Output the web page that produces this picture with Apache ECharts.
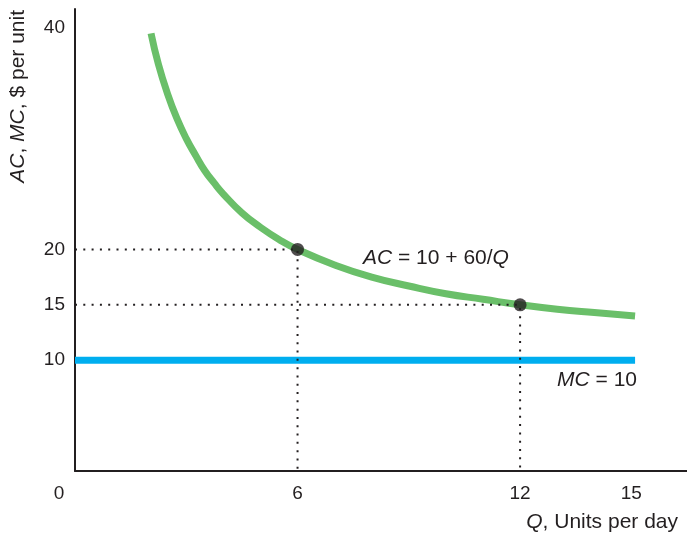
<!DOCTYPE html>
<html>
<head>
<meta charset="utf-8">
<script src="https://cdn.jsdelivr.net/npm/echarts@6/dist/echarts.min.js"></script>
<style>html,body{margin:0;padding:0;background:#fff;}#c{width:687px;height:535px;}</style>
</head>
<body>
<div id="c"></div>
<script>
// Data
var acQ = [2.05, 2.25, 2.5, 2.75, 3, 3.25, 3.5, 3.75, 4, 4.5, 5, 5.5, 6, 7, 8, 9, 10, 11, 12, 13, 14, 15.1];
var acVal = [39.5, 36.7, 34, 31.8, 30, 28.5, 27.1, 26, 25, 23.3, 22, 20.9, 20, 18.6, 17.5, 16.7, 16, 15.5, 15, 14.6, 14.3, 14];
var mcQ = [0, 15.1];
var mcVal = [10, 10];
var pointQ = [6, 12];
var pointVal = [20, 15];
var xTicks = [0, 6, 12, 15];
var yTicks = [10, 15, 20, 40];

var ink = '#231f20';
var fs = 19;
var tfs = 21;
var font = 'Liberation Sans, Arial, Helvetica, sans-serif';

function zip(a, b) { return a.map(function (v, i) { return [v, b[i]]; }); }

var guideSeries = pointQ.map(function (q, i) {
  return {
    type: 'line', silent: true, symbol: 'none', z: 4,
    data: [[0, pointVal[i]], [q, pointVal[i]], [q, 0]],
    lineStyle: { color: ink, width: 2, type: [2, 6.3] }
  };
});

function txt(s, x, y, align) {
  return {
    type: 'text', x: x, y: y,
    style: {
      text: s, align: align, verticalAlign: 'middle',
      fill: ink, fontSize: tfs, fontFamily: font,
      rich: { i: { fontStyle: 'italic', fontSize: tfs, fontFamily: font, fill: ink } }
    }
  };
}

var yTitle = txt('{i|AC}, {i|MC}, $ per unit', 18, 10, 'right');
yTitle.rotation = Math.PI / 2;

var chart = echarts.init(document.getElementById('c'));
chart.setOption({
  animation: false,
  backgroundColor: '#fff',
  grid: { left: 75, right: 0, top: 9, bottom: 64 },
  xAxis: {
    type: 'value', min: 0, max: 16.5,
    axisLine: { show: true, onZero: false, lineStyle: { color: ink, width: 2 } },
    axisTick: { show: false },
    splitLine: { show: false },
    axisLabel: {
      customValues: xTicks, color: ink, fontSize: fs, fontFamily: font, margin: 13,
      formatter: function (v) { return v === 0 ? '{z|0}' : String(v); },
      rich: { z: { color: ink, fontSize: fs, fontFamily: font, padding: [0, 32, 0, 0] } }
    }
  },
  yAxis: {
    type: 'value', min: 0, max: 41.7,
    axisLine: { show: true, onZero: false, lineStyle: { color: ink, width: 2 } },
    axisTick: { show: false },
    splitLine: { show: false },
    axisLabel: { customValues: yTicks, color: ink, fontSize: fs, fontFamily: font, margin: 10 }
  },
  graphic: [
    yTitle,
    txt('{i|Q}, Units per day', 678, 522, 'right'),
    txt('{i|AC} = 10 + 60/{i|Q}', 363, 258, 'left'),
    txt('{i|MC} = 10', 637, 380, 'right')
  ],
  series: [
    {
      type: 'line', symbol: 'none', z: 2, data: zip(mcQ, mcVal),
      lineStyle: { color: '#00aeef', width: 7, cap: 'butt' }
    },
    {
      type: 'line', symbol: 'none', smooth: 0.5, z: 3, data: zip(acQ, acVal),
      lineStyle: { color: '#6abf69', width: 7, cap: 'butt' }
    }
  ].concat(guideSeries).concat([
    {
      type: 'scatter', z: 5, symbol: 'circle', symbolSize: 13,
      itemStyle: { color: ink }, data: zip(pointQ, pointVal)
    }
  ])
});
</script>
</body>
</html>
